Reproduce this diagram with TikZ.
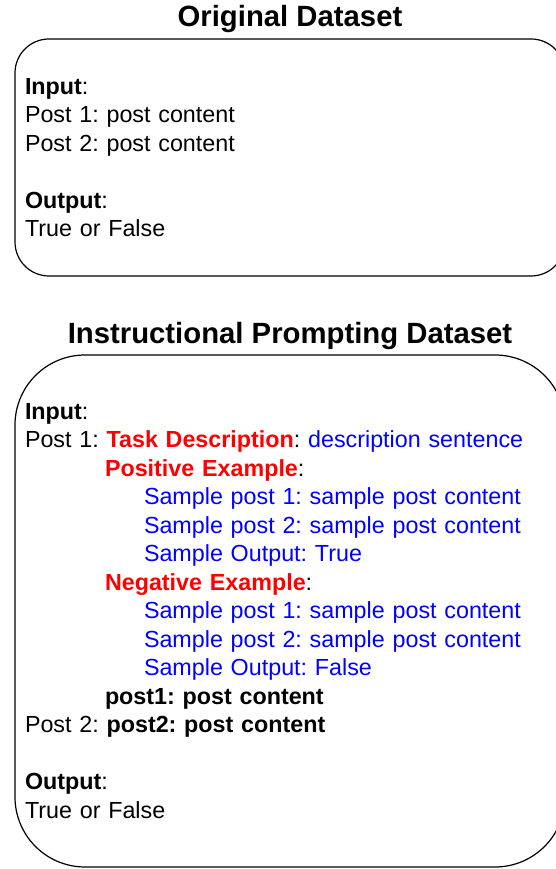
\documentclass[tikz,border=0pt]{standalone}
\usepackage{fontspec}
\setmainfont{Liberation Sans}
\usetikzlibrary{positioning}

\tikzset{
  databox/.style={draw, line width=1.2pt, minimum width=550pt, inner sep=10pt,
    text width=530pt, align=left, font=\fontsize{23.3}{28.5}\selectfont\frenchspacing},
  boxtitle/.style={inner sep=0pt, font=\fontsize{29.3}{31}\selectfont\bfseries}
}
\newcommand{\tsk}[1]{\textcolor{red}{\textbf{#1}}}
\newcommand{\smp}[1]{\hspace*{119pt}\textcolor{blue}{#1}}

\begin{document}
\begin{tikzpicture}[x=1pt,y=1pt]
          \useasboundingbox (0,0) rectangle (556,869);

          \node[databox, minimum height=237pt, rounded corners=34pt] (orig) at (290,711.5)
            {\textbf{Input}:\\
             Post 1: post content\\
             Post 2: post content\\[28.5pt]
             \textbf{Output}:\\
             True or False};
          \node[boxtitle, above=5pt of orig] (origtitle) {Original Dataset};

          \node[databox, minimum height=512pt, rounded corners=70pt] (instr) at (290,258)
            {\textbf{Input}:\\
             Post 1: \tsk{Task Description}: \textcolor{blue}{description sentence}\\
             \hspace*{80pt}\tsk{Positive Example}:\\
             \smp{Sample post 1: sample post content}\\
             \smp{Sample post 2: sample post content}\\
             \smp{Sample Output: True}\\
             \hspace*{80pt}\tsk{Negative Example}:\\
             \smp{Sample post 1: sample post content}\\
             \smp{Sample post 2: sample post content}\\
             \smp{Sample Output: False}\\
             \hspace*{80pt}\textbf{post1: post content}\\
             Post 2: \textbf{post2: post content}\\[28.5pt]
             \textbf{Output}:\\
             True or False};
          \node[boxtitle, above=4pt of instr] (instrtitle) {Instructional Prompting Dataset};
        \end{tikzpicture}
\end{document}
